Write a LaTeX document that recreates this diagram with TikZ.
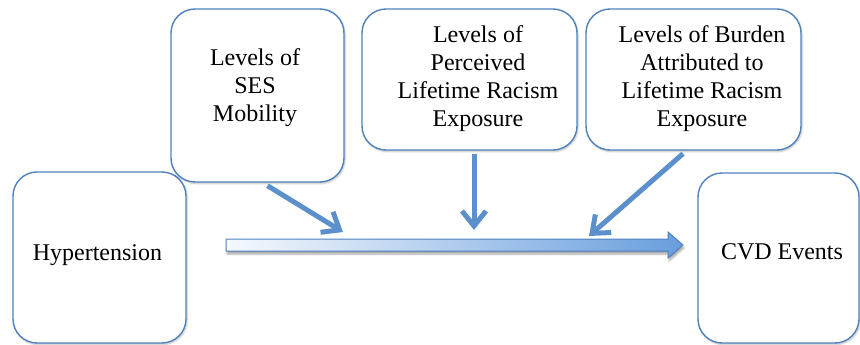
\documentclass[tikz,border=0pt]{standalone}
\usepackage{fontspec}
\setmainfont{Liberation Serif}
\usetikzlibrary{arrows.meta,shadows.blur}
\definecolor{edgeblue}{RGB}{79,129,189}
\definecolor{linkblue}{RGB}{91,144,204}
\definecolor{flowlight}{RGB}{246,249,254}
\definecolor{flowdark}{RGB}{104,158,221}
\tikzset{
  box/.style={draw=edgeblue,line width=1.4pt,rounded corners=24pt,fill=white,
    blur shadow={shadow xshift=1pt,shadow yshift=-1.5pt,shadow blur steps=6,shadow opacity=25}},
  caption/.style={font=\fontsize{24}{28}\selectfont,align=center,inner sep=0pt},
  link/.style={draw=linkblue,line width=5pt,-{Straight Barb[length=15pt,width=24pt]}},
  flowbar/.style={draw=edgeblue,line width=1pt,left color=flowlight,right color=flowdark,
    blur shadow={shadow xshift=1pt,shadow yshift=-3pt,shadow blur steps=6,shadow opacity=35}},
}
\begin{document}
\begin{tikzpicture}[x=1pt,y=-1pt]
\useasboundingbox (0,0) rectangle (860,345);

% boxes
\node[box,minimum width=173pt,minimum height=171pt] (hyp) at (99.5,257.5) {};
\node[box,minimum width=161pt,minimum height=170pt] (cvd) at (778.5,258) {};
\node[box,minimum width=173pt,minimum height=173pt] (ses) at (257.5,95.5) {};
\node[box,minimum width=215pt,minimum height=141pt] (perc) at (469.5,79.5) {};
\node[box,minimum width=215pt,minimum height=141pt] (burd) at (693.5,79.5) {};

% captions
\node[caption] (hypText) at (97.5,255) {Hypertension};
\node[caption] (cvdText) at (782,252) {CVD Events};
\node[caption] (sesText) at (255,88) {Levels of\\SES\\Mobility};
\node[caption] (percText) at (478,78.5) {Levels of\\Perceived\\Lifetime Racism\\Exposure};
\node[caption] (burdText) at (702,78.5) {Levels of Burden\\Attributed to\\Lifetime Racism\\Exposure};

% main pathway arrow
\coordinate (flowTail) at (226,245);
\coordinate (flowTip) at (683,245);
\path[flowbar] ([yshift=6pt]flowTail) -- ([shift={(-15,-6)}]flowTip)
  -- ([shift={(-15,-13)}]flowTip) -- (flowTip) -- ([shift={(-15,13)}]flowTip)
  -- ([shift={(-15,6)}]flowTip) -- ([yshift=-6pt]flowTail) -- cycle;

% moderator arrows
\coordinate (tipA) at (343,232);
\coordinate (tipB) at (474,230);
\coordinate (tipC) at (589,236);
\draw[link] ([shift={(10,3)}]ses.south) -- (tipA);
\draw[link] ([shift={(4.5,3)}]perc.south) -- (tipB);
\draw[link] ([shift={(-10.5,3)}]burd.south) -- (tipC);
\end{tikzpicture}
\end{document}
